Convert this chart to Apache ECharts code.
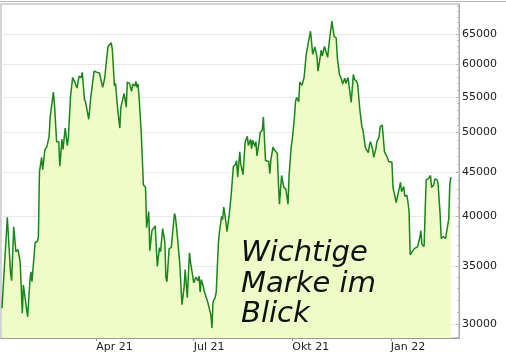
<!DOCTYPE html>
<html>
<head>
<meta charset="utf-8">
<script src="https://cdn.jsdelivr.net/npm/echarts@6/dist/echarts.min.js"></script>
<style>
html,body{margin:0;padding:0;background:#fff;}
#chart{width:506px;height:357px;}
</style>
</head>
<body>
<div id="chart"></div>
<script>
// Day offsets counted from 2021-01-01
const days = [2,4,7,8,10,11,13,15,17,19,21,22,23,24,26,28,29,30,33,35,36,37,39,40,42,44,46,47,48,50,51,53,55,56,58,59,61,63,64,66,68,70,72,74,76,77,79,80,83,85,88,91,93,96,98,99,101,102,104,105,107,108,110,112,113,116,118,119,121,123,124,126,127,128,129,130,132,133,134,136,137,139,140,142,143,145,146,147,149,150,152,154,155,156,158,160,163,164,166,168,170,172,173,175,177,178,181,182,183,185,186,187,188,190,191,192,194,195,197,198,199,201,202,204,205,207,208,209,211,212,214,216,218,220,221,222,224,225,227,228,229,231,232,234,235,236,238,239,240,242,243,245,246,248,249,251,252,253,255,256,259,260,261,263,265,267,269,270,272,273,275,276,277,279,280,282,284,285,286,287,288,290,291,292,294,296,297,299,300,301,303,304,306,308,310,311,312,314,315,317,319,320,322,323,325,326,328,330,331,333,334,336,338,339,341,342,344,345,346,348,349,351,352,354,355,357,359,361,363,366,367,368,370,371,373,374,375,377,378,380,381,382,383,385,387,388,390,392,393,394,396,397,398,400,402,403,405,406,408,409,411,412,414,416,417,419,420,421];
const prices = [31300,34500,39900,40000,34400,33700,38900,36400,36600,35400,30900,33300,32600,32700,30600,33600,34500,33600,37300,37400,37900,45000,46800,45300,47700,48200,49500,52100,51900,55700,53900,48800,48800,45700,49100,47800,50600,48300,49400,55100,57900,57200,56300,58100,57900,58700,54600,54300,51800,55100,58900,58700,58600,56400,57900,59700,62900,63100,63500,62400,56600,57000,53200,50600,53500,55500,53500,57200,57000,55800,56900,56600,57300,56400,56900,54900,50000,49800,43500,43200,38800,40500,36500,38500,38300,39000,38900,35000,36800,36400,38700,37400,34000,33600,36700,36800,40300,39900,37600,35200,31600,33100,34700,32200,36300,35400,33500,33600,34000,33700,34100,32700,33800,33150,32700,32800,31850,31850,30760,29700,31850,32200,32700,37200,38400,40000,39650,41000,39400,38400,40000,42400,45700,45900,46400,44400,47500,45900,44700,44500,48800,49500,48300,49100,47900,49000,48200,48800,47000,48700,50000,50300,52100,46400,46200,46300,44800,46500,48100,47800,47300,43900,41300,44600,43200,43000,41300,44600,48200,49100,52100,54300,54900,54300,57200,56700,57900,57900,61600,61900,63600,65500,63600,61600,62800,61300,58900,61100,62300,61300,62900,62800,61100,64500,67300,65900,64600,64300,61100,58400,57600,56900,57800,57000,57900,57600,54200,58400,57600,57300,56900,53200,50700,50300,48200,47800,47400,48400,48800,47800,46800,47900,48800,49400,50800,51000,47500,47000,46300,46200,43200,43200,41500,41600,43200,43800,42700,43300,42200,42300,41500,40500,36100,36400,36700,36600,36900,37800,38500,37100,36900,40500,44100,44200,44600,43200,43500,44200,44100,43700,40200,37700,37900,37700,37900,39700,43500,44400];

const xTickDays = [90, 181, 273, 365];
const xTickLabels = ['Apr 21', 'Jul 21', 'Okt 21', 'Jan 22'];
const yTickValues = [30000, 35000, 40000, 45000, 50000, 55000, 60000, 65000];
const yMinorValues = [];
for (let v = 29000; v <= 70000; v += 1000) yMinorValues.push(v);
const xRange = [1.1, 428.6];
const yRange = [28920, 70430];
const noteLines = ['Wichtige', 'Marke im', 'Blick'];

const L = v => Math.log10(v);
const seriesData = days.map((d, i) => [d, L(prices[i])]);

const chart = echarts.init(document.getElementById('chart'), null, {renderer: 'canvas'});
const font = '"DejaVu Sans", Verdana, sans-serif';

chart.setOption({
  animation: false,
  backgroundColor: '#ffffff',
  grid: {left: 1, right: 47, top: 4, bottom: 19, show: true, borderColor: '#a9a9a9', borderWidth: 1, backgroundColor: '#ffffff'},
  xAxis: {
    type: 'value',
    min: xRange[0], max: xRange[1],
    axisLine: {show: true, lineStyle: {color: '#9a9a9a', width: 1}},
    axisTick: {show: true, customValues: xTickDays, length: 3, lineStyle: {color: '#9a9a9a'}},
    axisLabel: {
      customValues: xTickDays,
      formatter: v => xTickLabels[xTickDays.indexOf(Math.round(v))] || '',
      align: 'left', margin: 4, fontSize: 11, color: '#222', fontFamily: font
    },
    splitLine: {show: false}
  },
  yAxis: [{
    type: 'value', position: 'right',
    min: L(yRange[0]), max: L(yRange[1]),
    axisLine: {show: true, lineStyle: {color: '#a9a9a9'}},
    axisTick: {show: true, inside: true, length: 3, customValues: yTickValues.map(L), lineStyle: {color: '#b5b5b5'}},
    axisLabel: {
      customValues: yTickValues.map(L),
      formatter: v => String(Math.round(Math.pow(10, v) / 1000) * 1000),
      margin: 3, fontSize: 11, color: '#222', fontFamily: font
    },
    splitLine: {show: true, lineStyle: {color: '#e9e9e9', width: 1}}
  }, {
    type: 'value', position: 'right',
    min: L(yRange[0]), max: L(yRange[1]),
    axisLine: {show: false},
    axisTick: {show: true, inside: true, length: 2, customValues: yMinorValues.map(L), lineStyle: {color: '#bdbdbd'}},
    axisLabel: {show: false},
    splitLine: {show: false}
  }],
  series: [{
    type: 'line',
    data: seriesData,
    yAxisIndex: 0,
    showSymbol: false,
    symbol: 'none',
    lineStyle: {color: '#18861a', width: 1.5},
    areaStyle: {color: '#f0fcc8', opacity: 1, origin: 'start'},
    z: 3
  }],
  graphic: [
    {type: 'line', shape: {x1: 0, y1: 1.5, x2: 506, y2: 1.5}, style: {stroke: '#b5b5b5', lineWidth: 1}, z: 10},
    {type: 'text', left: 241, top: 239, style: {text: noteLines[0], font: 'italic 29px "DejaVu Sans"', fill: '#111'}, z: 20},
    {type: 'text', left: 241, top: 270, style: {text: noteLines[1], font: 'italic 29px "DejaVu Sans"', fill: '#111'}, z: 20},
    {type: 'text', left: 241, top: 300, style: {text: noteLines[2], font: 'italic 29px "DejaVu Sans"', fill: '#111'}, z: 20}
  ]
});
</script>
</body>
</html>
